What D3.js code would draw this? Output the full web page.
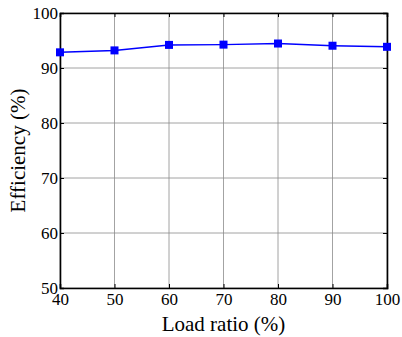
<!DOCTYPE html>
<html>
<head>
<meta charset="utf-8">
<script src="https://cdn.jsdelivr.net/npm/d3@7"></script>
<style>
  body { margin: 0; background: #fff; }
  text { font-family: "Liberation Serif", "Times New Roman", serif; fill: #000; }
</style>
</head>
<body>
<script>
var loadRatio = [40, 50, 60, 70, 80, 90, 100];
var efficiency = [92.85, 93.2, 94.2, 94.25, 94.45, 94.05, 93.85];
var xTicks = [40, 50, 60, 70, 80, 90, 100];
var yTicks = [50, 60, 70, 80, 90, 100];

var w = 402, h = 337;
var pLeft = 60, pRight = 387, pTop = 13, pBottom = 288;

var svg = d3.select("body").append("svg")
  .attr("width", w).attr("height", h);

var x = d3.scaleLinear().domain([40, 100]).range([pLeft, pRight]);
var y = d3.scaleLinear().domain([50, 100]).range([pBottom, pTop]);

// grid
svg.selectAll("line.vg").data(xTicks).enter().append("line")
  .attr("x1", function(d) { return x(d); }).attr("x2", function(d) { return x(d); })
  .attr("y1", pTop).attr("y2", pBottom)
  .attr("stroke", "#8c8c8c").attr("stroke-width", 0.8);
svg.selectAll("line.hg").data(yTicks).enter().append("line")
  .attr("y1", function(d) { return y(d); }).attr("y2", function(d) { return y(d); })
  .attr("x1", pLeft).attr("x2", pRight)
  .attr("stroke", "#8c8c8c").attr("stroke-width", 0.8);

// axes (ticks pointing inward)
var gx = svg.append("g").attr("transform", "translate(0," + pBottom + ")")
  .call(d3.axisBottom(x).tickValues(xTicks).tickSize(-4).tickPadding(5));
var gy = svg.append("g").attr("transform", "translate(" + pLeft + ",0)")
  .call(d3.axisLeft(y).tickValues(yTicks).tickSize(-4).tickPadding(2));
svg.append("g").attr("transform", "translate(0," + pTop + ")")
  .call(d3.axisTop(x).tickValues(xTicks).tickSize(-4).tickFormat(""));
svg.append("g").attr("transform", "translate(" + pRight + ",0)")
  .call(d3.axisRight(y).tickValues(yTicks).tickSize(-4).tickFormat(""));

svg.selectAll(".domain").attr("stroke", "#000").attr("stroke-width", 1.6);
svg.selectAll(".tick line").attr("stroke", "#000");
gx.selectAll("text").attr("font-size", "17px").attr("font-family", "Liberation Serif");
gy.selectAll("text").attr("font-size", "17px").attr("font-family", "Liberation Serif")
  .attr("dy", "0.35em");

// line + markers
var line = d3.line()
  .x(function(d, i) { return x(loadRatio[i]); })
  .y(function(d) { return y(d); });
svg.append("path").datum(efficiency)
  .attr("d", line).attr("fill", "none")
  .attr("stroke", "#0000ff").attr("stroke-width", 1.5);
svg.selectAll("rect.mk").data(efficiency).enter().append("rect")
  .attr("x", function(d, i) { return x(loadRatio[i]) - 4; })
  .attr("y", function(d) { return y(d) - 4; })
  .attr("width", 8).attr("height", 8)
  .attr("fill", "#0000ff");

// labels
svg.append("text").attr("x", (pLeft + pRight) / 2).attr("y", 331)
  .attr("text-anchor", "middle").attr("font-size", "21px")
  .text("Load ratio (%)");
svg.append("text")
  .attr("transform", "translate(25," + ((pTop + pBottom) / 2) + ") rotate(-90)")
  .attr("text-anchor", "middle").attr("font-size", "21px")
  .text("Efficiency (%)");
</script>
</body>
</html>
